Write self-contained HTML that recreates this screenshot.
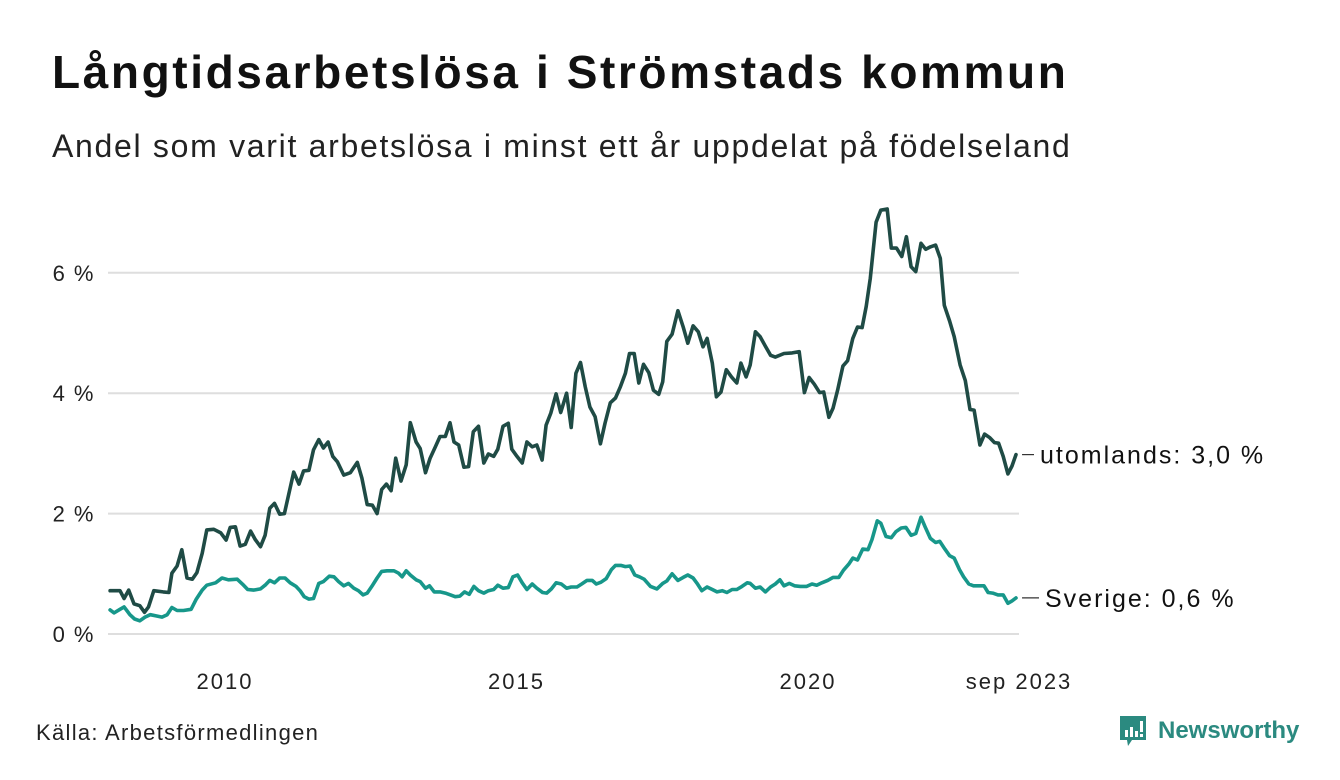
<!DOCTYPE html>
<html><head><meta charset="utf-8">
<style>
html,body{margin:0;padding:0;background:#fff;}
body{width:1340px;height:780px;position:relative;overflow:hidden;font-family:"Liberation Sans",sans-serif;color:#111;}
#title{position:absolute;left:52px;top:45px;font-size:46px;font-weight:bold;margin:0;letter-spacing:2.6px;white-space:nowrap;}
#subtitle{position:absolute;left:52px;top:128px;font-size:32px;margin:0;color:#222;letter-spacing:1.7px;white-space:nowrap;}
#source{position:absolute;left:36px;top:720px;font-size:22px;color:#222;letter-spacing:1.3px;}
#logo{position:absolute;left:1118px;top:714px;display:flex;align-items:center;}
#logo span{font-size:24px;font-weight:bold;color:#2b8a80;margin-left:10px;}
svg{position:absolute;left:0;top:0;}
</style></head>
<body>
<h1 id="title">Långtidsarbetslösa i Strömstads kommun</h1>
<p id="subtitle">Andel som varit arbetslösa i minst ett år uppdelat på födelseland</p>
<svg id="chart" width="1340" height="780"></svg>
<div id="source">Källa: Arbetsförmedlingen</div>
<div id="logo">
<svg width="30" height="34" viewBox="0 0 30 34" style="position:static">
<path d="M2 2 H28 V26 H14 L10 32 L9 26 H2 Z" fill="#2b8a80"/>
<rect x="7" y="16" width="3" height="7" fill="#fff"/><rect x="12" y="13" width="3" height="10" fill="#fff"/><rect x="17" y="17" width="3" height="6" fill="#fff"/><rect x="22" y="7" width="3" height="11" fill="#fff"/><rect x="22" y="20" width="3" height="3" fill="#fff"/>
</svg><span>Newsworthy</span></div>
<script>
const yTicks = [0, 2, 4, 6];
const yTickLabels = ["0 %", "2 %", "4 %", "6 %"];
const xTicks = [2010, 2015, 2020];
const xTickLabels = ["2010", "2015", "2020"];
const utYears = [2008.08,2008.25,2008.32,2008.40,2008.49,2008.59,2008.67,2008.74,2008.83,2008.99,2009.09,2009.14,2009.23,2009.31,2009.40,2009.49,2009.57,2009.66,2009.74,2009.86,2009.98,2010.07,2010.14,2010.23,2010.31,2010.40,2010.49,2010.57,2010.66,2010.74,2010.82,2010.90,2010.99,2011.07,2011.23,2011.32,2011.40,2011.49,2011.57,2011.66,2011.74,2011.82,2011.90,2011.98,2012.09,2012.20,2012.32,2012.40,2012.49,2012.58,2012.66,2012.74,2012.82,2012.90,2012.98,2013.07,2013.16,2013.23,2013.33,2013.40,2013.49,2013.57,2013.66,2013.74,2013.83,2013.91,2013.98,2014.06,2014.15,2014.23,2014.31,2014.40,2014.49,2014.57,2014.66,2014.73,2014.82,2014.91,2014.97,2015.06,2015.15,2015.23,2015.32,2015.40,2015.49,2015.56,2015.64,2015.73,2015.81,2015.91,2015.99,2016.07,2016.15,2016.23,2016.31,2016.40,2016.49,2016.57,2016.66,2016.75,2016.83,2016.92,2016.99,2017.07,2017.15,2017.23,2017.32,2017.40,2017.49,2017.56,2017.63,2017.72,2017.82,2017.91,2017.99,2018.08,2018.17,2018.25,2018.32,2018.41,2018.48,2018.56,2018.65,2018.74,2018.83,2018.90,2018.99,2019.06,2019.15,2019.23,2019.32,2019.41,2019.49,2019.64,2019.78,2019.90,2019.99,2020.07,2020.16,2020.25,2020.32,2020.41,2020.48,2020.56,2020.65,2020.73,2020.82,2020.90,2020.98,2021.05,2021.12,2021.22,2021.30,2021.41,2021.48,2021.57,2021.66,2021.74,2021.82,2021.90,2021.99,2022.07,2022.15,2022.24,2022.32,2022.39,2022.48,2022.56,2022.66,2022.75,2022.83,2022.90,2023.00,2023.08,2023.17,2023.25,2023.32,2023.40,2023.48,2023.55,2023.62];
const utValues = [0.72,0.72,0.59,0.73,0.50,0.47,0.36,0.45,0.72,0.70,0.69,1.01,1.13,1.40,0.93,0.91,1.02,1.34,1.73,1.74,1.68,1.56,1.77,1.78,1.46,1.49,1.71,1.57,1.45,1.64,2.09,2.17,1.99,2.00,2.69,2.49,2.71,2.72,3.06,3.23,3.09,3.19,2.95,2.86,2.64,2.68,2.85,2.59,2.15,2.14,2.00,2.40,2.49,2.38,2.92,2.54,2.81,3.51,3.19,3.08,2.68,2.92,3.11,3.28,3.28,3.51,3.19,3.14,2.77,2.78,3.36,3.45,2.84,2.99,2.95,3.07,3.45,3.50,3.07,2.95,2.84,3.19,3.11,3.14,2.89,3.47,3.67,3.99,3.68,4.00,3.43,4.33,4.51,4.11,3.77,3.61,3.16,3.50,3.84,3.92,4.10,4.33,4.66,4.66,4.17,4.48,4.34,4.05,3.98,4.19,4.86,4.98,5.37,5.10,4.83,5.12,5.02,4.77,4.91,4.50,3.94,4.02,4.39,4.27,4.17,4.50,4.27,4.47,5.02,4.94,4.78,4.63,4.60,4.66,4.67,4.69,4.01,4.26,4.15,4.01,4.02,3.60,3.75,4.05,4.45,4.54,4.91,5.10,5.09,5.44,5.91,6.84,7.04,7.06,6.41,6.41,6.27,6.60,6.10,6.02,6.49,6.39,6.43,6.46,6.24,5.46,5.20,4.94,4.47,4.21,3.73,3.72,3.14,3.32,3.26,3.18,3.17,2.95,2.66,2.79,2.98];
const svYears = [2008.08,2008.15,2008.25,2008.32,2008.42,2008.50,2008.59,2008.68,2008.77,2008.87,2008.97,2009.06,2009.14,2009.23,2009.34,2009.47,2009.56,2009.66,2009.74,2009.89,2010.00,2010.11,2010.26,2010.37,2010.44,2010.54,2010.66,2010.74,2010.82,2010.90,2010.99,2011.08,2011.17,2011.27,2011.34,2011.41,2011.49,2011.57,2011.66,2011.74,2011.84,2011.92,2012.00,2012.09,2012.17,2012.26,2012.34,2012.42,2012.49,2012.57,2012.66,2012.74,2012.83,2012.95,2013.03,2013.09,2013.16,2013.23,2013.33,2013.40,2013.49,2013.56,2013.64,2013.74,2013.83,2013.92,2014.00,2014.08,2014.16,2014.24,2014.32,2014.40,2014.49,2014.57,2014.66,2014.73,2014.82,2014.91,2014.99,2015.07,2015.15,2015.23,2015.32,2015.40,2015.50,2015.57,2015.65,2015.73,2015.82,2015.91,2015.99,2016.09,2016.17,2016.26,2016.35,2016.42,2016.50,2016.59,2016.68,2016.75,2016.84,2016.92,2017.00,2017.08,2017.16,2017.24,2017.35,2017.46,2017.56,2017.63,2017.72,2017.82,2017.91,2017.99,2018.08,2018.15,2018.23,2018.32,2018.41,2018.49,2018.58,2018.66,2018.75,2018.83,2018.92,2019.01,2019.06,2019.15,2019.23,2019.32,2019.41,2019.49,2019.57,2019.64,2019.73,2019.82,2019.92,2020.03,2020.12,2020.20,2020.29,2020.39,2020.48,2020.58,2020.66,2020.75,2020.82,2020.90,2020.99,2021.08,2021.15,2021.24,2021.30,2021.39,2021.48,2021.56,2021.65,2021.73,2021.82,2021.90,2021.99,2022.06,2022.15,2022.24,2022.31,2022.40,2022.48,2022.56,2022.65,2022.72,2022.81,2022.89,2022.99,2023.07,2023.14,2023.22,2023.31,2023.40,2023.48,2023.55,2023.62];
const svValues = [0.40,0.35,0.41,0.45,0.32,0.25,0.22,0.28,0.32,0.30,0.28,0.32,0.44,0.39,0.39,0.41,0.58,0.73,0.81,0.85,0.93,0.90,0.91,0.81,0.74,0.73,0.75,0.81,0.89,0.85,0.93,0.93,0.85,0.79,0.72,0.62,0.58,0.59,0.84,0.87,0.96,0.95,0.87,0.80,0.84,0.76,0.72,0.65,0.68,0.79,0.93,1.04,1.05,1.05,1.01,0.95,1.05,0.98,0.90,0.87,0.76,0.80,0.70,0.70,0.68,0.65,0.62,0.63,0.70,0.66,0.79,0.72,0.68,0.72,0.74,0.81,0.76,0.77,0.95,0.98,0.85,0.74,0.83,0.76,0.69,0.68,0.75,0.85,0.83,0.76,0.78,0.78,0.83,0.89,0.89,0.83,0.86,0.92,1.07,1.14,1.14,1.12,1.13,0.98,0.95,0.91,0.79,0.75,0.84,0.88,1.00,0.89,0.94,0.98,0.93,0.84,0.72,0.78,0.74,0.70,0.72,0.69,0.74,0.74,0.79,0.85,0.84,0.76,0.78,0.70,0.78,0.83,0.90,0.80,0.84,0.80,0.79,0.79,0.83,0.81,0.85,0.89,0.94,0.94,1.06,1.16,1.26,1.23,1.41,1.40,1.57,1.88,1.84,1.62,1.60,1.70,1.76,1.77,1.64,1.67,1.94,1.78,1.59,1.52,1.54,1.41,1.30,1.26,1.07,0.95,0.83,0.80,0.80,0.80,0.69,0.68,0.65,0.65,0.51,0.55,0.60];
const endLabel = "sep 2023";

const NS = "http://www.w3.org/2000/svg";
const svg = document.getElementById('chart');
const X0 = 222, XPY = 58.3, Y0 = 634, YPP = 60.2;
const FONT = 'Liberation Sans, sans-serif';
function xs(yr){ return X0 + (yr - 2010) * XPY; }
function ys(v){ return Y0 - v * YPP; }
function mk(tag, attrs){ const e = document.createElementNS(NS, tag); for (const k in attrs) e.setAttribute(k, attrs[k]); svg.appendChild(e); return e; }

yTicks.forEach((t, i) => {
  const g = mk('line', {x1: 108, x2: 1019, y1: ys(t), y2: ys(t), stroke: '#dedede', 'stroke-width': 2});
  
  
  const tx = mk('text', {x: 95, y: ys(t) + 8, 'text-anchor': 'end', 'font-size': 22, 'letter-spacing': 1.5, fill: '#222', 'font-family': FONT});
  tx.textContent = yTickLabels[i];
  
  
});
xTicks.forEach((t, i) => {
  const tx = mk('text', {x: xs(t) + 3, y: 689, 'text-anchor': 'middle', 'font-size': 22, 'letter-spacing': 2, fill: '#222', 'font-family': FONT});
  tx.textContent = xTickLabels[i];
  
  
});
const lastYr = utYears[utYears.length - 1];
const el = mk('text', {x: xs(lastYr) + 3, y: 689, 'text-anchor': 'middle', 'font-size': 22, 'letter-spacing': 2, fill: '#222', 'font-family': FONT});
el.textContent = endLabel;



function series(years, vals, color, name, label, lx){
  const d = years.map((y, i) => (i ? 'L' : 'M') + xs(y).toFixed(1) + ',' + ys(vals[i]).toFixed(1)).join('');
  const p = mk('path', {d: d, fill: 'none', stroke: color, 'stroke-width': 3.6, 'stroke-linejoin': 'round', 'stroke-linecap': 'round'});
  
  
  const lv = vals[vals.length - 1], ly = ys(lv);
  const tick = mk('line', {x1: xs(years[years.length-1]) + 6, x2: lx - 6, y1: ly, y2: ly, stroke: '#333', 'stroke-width': 1.2});
  
  
  const t = mk('text', {x: lx, y: ly + 9, 'font-size': 25, 'letter-spacing': 2, fill: '#111', 'font-family': FONT});
  t.textContent = label + ': ' + lv.toFixed(1).replace('.', ',') + ' %';
  
  
}
series(svYears, svValues, '#17978a', 'sverige', 'Sverige', 1045);
series(utYears, utValues, '#1f4b45', 'utomlands', 'utomlands', 1040);
</script>
</body></html>
